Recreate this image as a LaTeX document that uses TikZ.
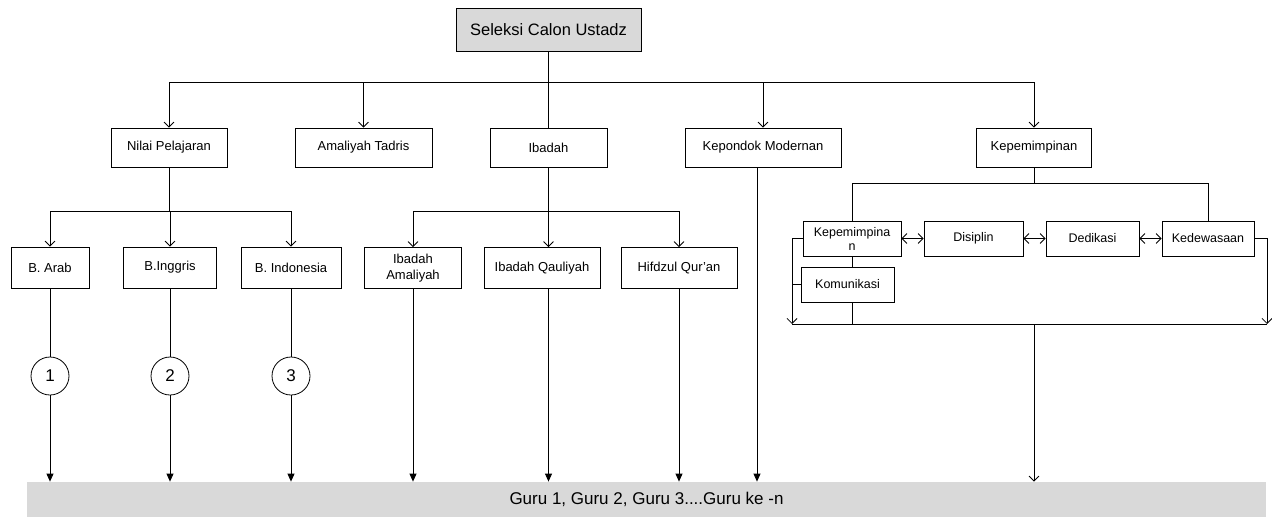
\documentclass[tikz,border=0pt]{standalone}
\usepackage{fontspec}
\setmainfont{Liberation Sans}
\usetikzlibrary{arrows.meta}

\begin{document}
\begin{tikzpicture}[x=1pt,y=-1pt,line width=0.8pt,
      vee arr/.style={-{Straight Barb[length=5pt,width=10pt]}},
      fill arr/.style={-{Triangle[length=8pt,width=7pt]}},
      twin arr/.style={{Straight Barb[length=5pt,width=10pt]}-{Straight Barb[length=5pt,width=10pt]}},
      main box/.style={draw,fill=white,inner sep=2pt,align=center,
      font=\fontsize{13}{16}\selectfont},
      small box/.style={main box,minimum height=35pt,font=\fontsize{12.5}{14}\selectfont},
      num node/.style={circle,draw,minimum size=38pt,inner sep=0pt,
      font=\fontsize{17}{18}\selectfont}]

      \useasboundingbox (0,0) rectangle (1272,517);

      %% THESE ARE THE NODES.
      \node[main box,fill=black!15,minimum width=185pt,minimum height=43pt,
            font=\fontsize{16.5}{18}\selectfont] (root) at (548.5,29.5) {Seleksi Calon Ustadz};

      \node[main box,minimum width=116pt,minimum height=39pt] (nilai) at (169,147.5) {Nilai Pelajaran};
      \node[main box,minimum width=137pt,minimum height=39pt] (amal) at (363.5,147.5) {Amaliyah Tadris};
      \node[main box,minimum width=117pt,minimum height=39pt] (ibadah) at (548.5,147.5) {Ibadah};
      \node[main box,minimum width=156pt,minimum height=39pt] (pondok) at (763,147.5) {Kepondok Modernan};
      \node[main box,minimum width=115pt,minimum height=39pt] (kepem) at (1034,147.5) {Kepemimpinan};

      \node[main box,minimum width=78pt,minimum height=41pt] (arab) at (50,267.5) {B. Arab};
      \node[main box,minimum width=93pt,minimum height=41pt] (inggris) at (170,267.5) {B.Inggris};
      \node[main box,minimum width=100pt,minimum height=41pt] (indo) at (291,267.5) {B. Indonesia};
      \node[main box,minimum width=97pt,minimum height=41pt] (ibamal) at (413,268) {Ibadah\\Amaliyah};
      \node[main box,minimum width=116pt,minimum height=41pt] (ibqaul) at (542,268) {Ibadah Qauliyah};
      \node[main box,minimum width=116pt,minimum height=41pt] (hifdz) at (679,268) {Hifdzul Qur'an};

      \node[small box,minimum width=98pt] (kp) at (852,238.5) {Kepemimpina\\n};
      \node[small box,minimum width=99pt] (disip) at (973.5,238.5) {Disiplin};
      \node[small box,minimum width=93pt] (dedik) at (1092.5,238.5) {Dedikasi};
      \node[small box,minimum width=92pt] (dewasa) at (1208,238.5) {Kedewasaan};
      \node[small box,minimum width=93pt] (komun) at (847.5,284.5) {Komunikasi};

      \node[num node] (c1) at (50,376) {1};
      \node[num node] (c2) at (170,376) {2};
      \node[num node] (c3) at (291,376) {3};

      \node[fill=black!15,minimum width=1239pt,minimum height=35pt,
            font=\fontsize{17}{19}\selectfont] (bar) at (646.5,499.5) {Guru 1, Guru 2, Guru 3....Guru ke -n};

      \coordinate (hub) at (548,82);
      \coordinate (nsplit) at (169,211);
      \coordinate (isplit) at (548,211);
      \coordinate (ksplit) at (1034,183);
      \coordinate (kleft) at (792,324);
      \coordinate (kright) at (1267,324);

      %% THESE ARE THE EDGES.
      \draw (root) -- (ibadah);
      \draw (nilai.north |- hub) -- (kepem.north |- hub);
      \foreach \n in {nilai,amal,pondok,kepem}
        \draw[vee arr] (\n.north |- hub) -- (\n.north);

      \draw (nilai) -- (nilai.south |- nsplit);
      \draw (arab.north |- nsplit) -- (indo.north |- nsplit);
      \foreach \n in {arab,inggris,indo}
        \draw[vee arr] (\n.north |- nsplit) -- (\n.north);

      \draw (ibadah) -- (ibadah.south |- isplit);
      \draw (ibamal.north |- isplit) -- (hifdz.north |- isplit);
      \draw[vee arr] (ibamal.north |- isplit) -- (ibamal.north);
      \draw[vee arr] (ibadah.south |- isplit) -- (ibadah.south |- ibqaul.north);
      \draw[vee arr] (hifdz.north |- isplit) -- (hifdz.north);

      \draw (arab) -- (c1);
      \draw (inggris) -- (c2);
      \draw (indo) -- (c3);
      \foreach \c in {c1,c2,c3}
        \draw[fill arr] (\c) -- (\c |- bar.north);
      \draw[fill arr] (ibamal) -- (ibamal |- bar.north);
      \draw[fill arr] (ibadah.south |- ibqaul.south) -- (ibadah.south |- bar.north);
      \draw[fill arr] (hifdz) -- (hifdz |- bar.north);
      \draw[fill arr] ([xshift=-6pt]pondok.south) -- ([xshift=-6pt]pondok.south |- bar.north);

      %% KEPEMIMPINAN BRANCH
      \draw (kepem) -- (kepem.south |- ksplit);
      \draw (kp.north |- ksplit) -- (dewasa.north |- ksplit);
      \draw (kp.north |- ksplit) -- (kp.north);
      \draw (dewasa.north |- ksplit) -- (dewasa.north);
      \draw[twin arr] (kp) -- (disip);
      \draw[twin arr] (disip) -- (dedik);
      \draw[twin arr] (dedik) -- (dewasa);
      \draw (kp) -- (kp.south |- komun.north);
      \draw (kp.south |- komun.south) -- (kp.south |- kleft);
      \draw[vee arr] (kp.west) -- (kp.west -| kleft) -- (kleft);
      \draw (komun.west) -- (komun.west -| kleft);
      \draw[vee arr] (dewasa.east) -- (dewasa.east -| kright) -- (kright);
      \draw (kleft) -- (kright);
      \draw[vee arr] (kepem.south |- kleft) -- (kepem.south |- bar.north);
\end{tikzpicture}
\end{document}
